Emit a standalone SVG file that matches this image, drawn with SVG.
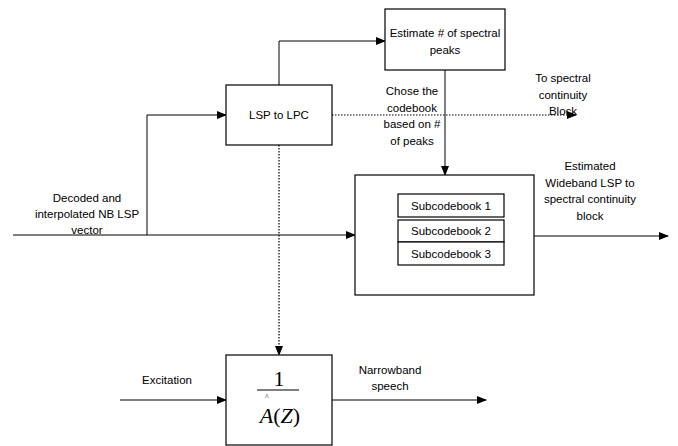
<svg xmlns="http://www.w3.org/2000/svg" width="678" height="446" viewBox="0 0 678 446">
<style>
.box{fill:#fff;stroke:#000;stroke-width:1.2}
.ln{fill:none;stroke:#000;stroke-width:1}
.dot{fill:none;stroke:#000;stroke-width:1.2;stroke-dasharray:1.5 1.5}
.t{font-family:"Liberation Sans",Arial,sans-serif;font-size:11.5px;fill:#000;text-anchor:middle}
.m{font-family:"Liberation Serif","Times New Roman",serif;fill:#000;text-anchor:middle}
</style>
<defs>
<marker id="ar" markerWidth="10" markerHeight="8" refX="9" refY="4" orient="auto" markerUnits="userSpaceOnUse">
<path d="M0,0 L10,4 L0,8 z" fill="#000"/>
</marker>
</defs>
<rect width="678" height="446" fill="#fff"/>
<g id="connectors">
<line class="ln" x1="13" y1="235" x2="355" y2="235" marker-end="url(#ar)"/>
<polyline class="ln" points="147,235 147,115 226,115" marker-end="url(#ar)"/>
<polyline class="ln" points="279,85 279,41 385,41" marker-end="url(#ar)"/>
<line class="ln" x1="445" y1="70" x2="445" y2="175" marker-end="url(#ar)"/>
<line class="dot" x1="332" y1="115" x2="576" y2="115" marker-end="url(#ar)"/>
<line class="dot" x1="279" y1="145" x2="279" y2="355" marker-end="url(#ar)"/>
<line class="ln" x1="534" y1="236" x2="668" y2="236" marker-end="url(#ar)"/>
<line class="ln" x1="120" y1="400" x2="226" y2="400" marker-end="url(#ar)"/>
<line class="ln" x1="332" y1="400" x2="486" y2="400" stroke-width="2" marker-end="url(#ar)"/>
</g>
<g id="estimate">
<rect class="box" x="385" y="9" width="120" height="61"/>
<text class="t" x="445" y="37">Estimate # of spectral</text>
<text class="t" x="445" y="54">peaks</text>
</g>
<g id="lsp2lpc">
<rect class="box" x="226" y="85" width="106" height="60"/>
<text class="t" x="279" y="119">LSP to LPC</text>
</g>
<g id="codebook">
<rect class="box" x="355" y="175" width="179" height="120"/>
<rect class="box" x="398" y="194" width="106" height="23"/>
<text class="t" x="451" y="210">Subcodebook 1</text>
<rect class="box" x="398" y="220" width="106" height="22"/>
<text class="t" x="451" y="235">Subcodebook 2</text>
<rect class="box" x="398" y="242" width="106" height="23"/>
<text class="t" x="451" y="258">Subcodebook 3</text>
</g>
<g id="filter">
<rect class="box" x="226" y="355" width="106" height="90"/>
<text class="m" x="279" y="386" font-size="22">1</text>
<line class="ln" x1="257" y1="390" x2="299" y2="390"/>
<text class="m" x="267" y="400" font-size="8">^</text>
<text class="m" x="280" y="423" font-size="22"><tspan font-style="italic">A</tspan>(<tspan font-style="italic">Z</tspan>)</text>
</g>
<g id="labels">
<text class="t" x="412" y="95">Chose the</text>
<text class="t" x="412" y="112">codebook</text>
<text class="t" x="412" y="128">based on #</text>
<text class="t" x="412" y="145">of peaks</text>
<text class="t" x="563" y="82">To spectral</text>
<text class="t" x="563" y="99">continuity</text>
<text class="t" x="563" y="115">Block</text>
<text class="t" x="87" y="202">Decoded and</text>
<text class="t" x="87" y="218">interpolated NB LSP</text>
<text class="t" x="87" y="234">vector</text>
<text class="t" x="590" y="170">Estimated</text>
<text class="t" x="590" y="187">Wideband LSP to</text>
<text class="t" x="590" y="203">spectral continuity</text>
<text class="t" x="590" y="220">block</text>
<text class="t" x="167" y="384">Excitation</text>
<text class="t" x="390" y="374">Narrowband</text>
<text class="t" x="390" y="390">speech</text>
</g>
</svg>
